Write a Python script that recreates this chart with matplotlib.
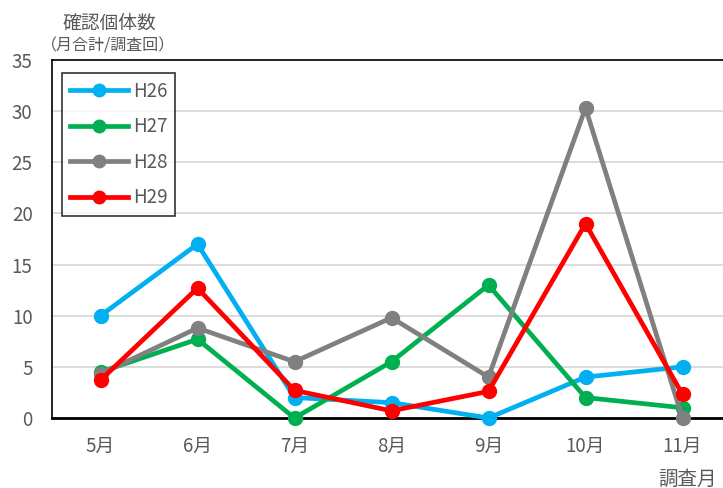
import matplotlib
matplotlib.use("Agg")
import matplotlib.pyplot as plt

plt.rcParams['font.family'] = ['Noto Sans CJK JP', 'DejaVu Sans']

months = ["5月", "6月", "7月", "8月", "9月", "10月", "11月"]
h26 = [10, 17, 2, 1.5, 0, 4, 5]
h27 = [4.5, 7.7, 0, 5.5, 13, 2, 1]
h28 = [4.3, 8.8, 5.5, 9.8, 4, 30.3, 0]
h29 = [3.7, 12.7, 2.7, 0.7, 2.6, 19, 2.3]
series_names = ["H26", "H27", "H28", "H29"]
series_colors = ["#00B0F0", "#00B050", "#808080", "#FF0000"]
yticks = [0, 5, 10, 15, 20, 25, 30, 35]

W, H = 723, 488
fig = plt.figure(figsize=(W / 100, H / 100), dpi=100)
# plot area runs past the right edge of the canvas
left, right, top, bottom = 52, 731, 60, 418
ax = fig.add_axes([left / W, 1 - bottom / H, (right - left) / W, (bottom - top) / H])

text_color = "#595959"
x = range(len(months))
for vals, name, col in zip([h26, h27, h28, h29], series_names, series_colors):
    ax.plot(x, vals, color=col, lw=3.4, marker="o", ms=10, label=name,
            solid_joinstyle="round", clip_on=False, zorder=3)

ax.set_xlim(-0.5, len(months) - 0.5)
ax.set_ylim(0, 35)
ax.set_yticks(yticks)
ax.set_xticks(list(x))
ax.set_xticklabels(months)
ax.yaxis.grid(True, color="#D9D9D9", lw=1.3)
ax.set_axisbelow(True)
for s in ["left", "top", "right"]:
    ax.spines[s].set_color("black")
    ax.spines[s].set_linewidth(1.2)
ax.spines["bottom"].set_color("black")
ax.spines["bottom"].set_linewidth(2)
ax.tick_params(axis="both", length=0, labelsize=13.5, colors=text_color)
ax.tick_params(axis="y", pad=14)
ax.tick_params(axis="x", pad=13)

leg = ax.legend(loc="upper left", bbox_to_anchor=((62 - left) / (right - left), 1 - (73 - top) / (bottom - top)),
                frameon=True, fancybox=False, edgecolor="black", fontsize=13.5,
                handlelength=3.1, labelspacing=0.77, handletextpad=0.25,
                borderpad=0.42, borderaxespad=0, labelcolor=text_color,
                markerscale=0.9)
leg.get_frame().set_linewidth(1.2)

fig.text(109 / W, 1 - 23 / H, "確認個体数", ha="center", va="center", fontsize=13.5, color=text_color)
fig.text(108 / W, 1 - 46 / H, "（月合計/調査回）", ha="center", va="center", fontsize=11.5, color=text_color)
fig.text(688 / W, 1 - 479 / H, "調査月", ha="center", va="center", fontsize=14, color=text_color)

fig.savefig("out.png", dpi=100)
